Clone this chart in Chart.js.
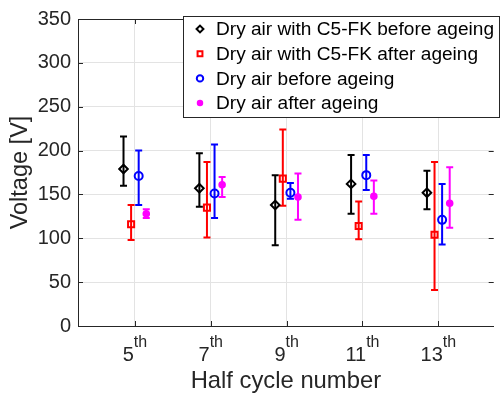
<!DOCTYPE html>
<html lang="en">
<head>
<meta charset="UTF-8">
<title>Voltage per half cycle</title>
<script src="https://cdn.jsdelivr.net/npm/chart.js@4.4.1/dist/chart.umd.min.js"></script>
<style>
  html, body { margin: 0; padding: 0; background: #fff; }
</style>
</head>
<body>
<canvas id="chart" width="500" height="396"></canvas>
<script>
// x axis: half cycle number, shown as 5th, 7th ...
const halfCycles = [5, 7, 9, 11, 13];
const tickLabels = ['5', '7', '9', '11', '13'];
const tickSuffix = 'th';

// voltage [V]: mean value plus lower / upper end of the error bar
const c5BeforeMean = [179, 157, 138, 162, 152];
const c5BeforeLow  = [160, 136, 92, 128, 133];
const c5BeforeHigh = [216, 197, 172, 195, 177];

const c5AfterMean = [116, 135, 168, 114, 104];
const c5AfterLow  = [98, 101, 137, 99, 41];
const c5AfterHigh = [138, 187, 224, 142, 187];

const airBeforeMean = [171, 151, 152, 172, 121];
const airBeforeLow  = [138, 123, 145, 155, 93];
const airBeforeHigh = [200, 207, 163, 195, 162];

const airAfterMean = [128, 161, 147, 148, 140];
const airAfterLow  = [123, 147, 121, 128, 112];
const airAfterHigh = [133, 170, 174, 166, 181];

const textColor = '#262626';
const gridColor = '#e3e3e3';
const fontFamily = '"Liberation Sans", Arial, sans-serif';

// build points, each series is shifted a bit sideways around the tick
function makePoints(mean, low, high, shift) {
  return halfCycles.map((h, i) => ({ x: h + shift, y: mean[i], low: low[i], high: high[i] }));
}

const series = [
  { label: 'Dry air with C5-FK before ageing', color: '#000000', style: 'rectRot', r: 4.3, fill: false,
    data: makePoints(c5BeforeMean, c5BeforeLow, c5BeforeHigh, -0.3) },
  { label: 'Dry air with C5-FK after ageing', color: '#ff0000', style: 'rect', r: 4.3, fill: false,
    data: makePoints(c5AfterMean, c5AfterLow, c5AfterHigh, -0.1) },
  { label: 'Dry air before ageing', color: '#0000ff', style: 'circle', r: 4, fill: false,
    data: makePoints(airBeforeMean, airBeforeLow, airBeforeHigh, 0.1) },
  { label: 'Dry air after ageing', color: '#ff00ff', style: 'circle', r: 2.8, fill: true,
    data: makePoints(airAfterMean, airAfterLow, airAfterHigh, 0.3) }
];

// vertical error bars with small caps, drawn under the markers
const errorBars = {
  id: 'errorBars',
  beforeDatasetsDraw(chart) {
    const ctx = chart.ctx;
    const xs = chart.scales.x, ys = chart.scales.y;
    chart.data.datasets.forEach(ds => {
      ctx.save();
      ctx.strokeStyle = ds.borderColor;
      ctx.lineWidth = 2;
      ds.data.forEach(p => {
        const px = xs.getPixelForValue(p.x);
        const top = ys.getPixelForValue(p.high);
        const bot = ys.getPixelForValue(p.low);
        ctx.beginPath();
        ctx.moveTo(px, top); ctx.lineTo(px, bot);
        ctx.moveTo(px - 3.5, top); ctx.lineTo(px + 3.5, top);
        ctx.moveTo(px - 3.5, bot); ctx.lineTo(px + 3.5, bot);
        ctx.stroke();
      });
      ctx.restore();
    });
  }
};

// matlab style box: top line, inward ticks, x labels with superscript
const frame = {
  id: 'frame',
  afterDraw(chart) {
    const ctx = chart.ctx;
    const a = chart.chartArea;
    const xs = chart.scales.x, ys = chart.scales.y;
    const t = 5;
    ctx.save();
    ctx.strokeStyle = textColor;
    ctx.lineWidth = 1;
    ctx.beginPath();
    ctx.moveTo(a.left, a.top + 0.5); ctx.lineTo(a.right, a.top + 0.5);
    halfCycles.forEach(h => {
      const px = Math.round(xs.getPixelForValue(h)) + 0.5;
      ctx.moveTo(px, a.bottom); ctx.lineTo(px, a.bottom - t);
      ctx.moveTo(px, a.top); ctx.lineTo(px, a.top + t);
    });
    ys.ticks.forEach(tk => {
      const py = Math.round(ys.getPixelForValue(tk.value)) + 0.5;
      ctx.moveTo(a.left, py); ctx.lineTo(a.left + t, py);
      ctx.moveTo(a.right, py); ctx.lineTo(a.right - t, py);
    });
    ctx.stroke();

    ctx.fillStyle = textColor;
    ctx.textBaseline = 'alphabetic';
    ctx.textAlign = 'left';
    const bigFont = '20px ' + fontFamily;
    const smallFont = '16px ' + fontFamily;
    halfCycles.forEach((h, i) => {
      ctx.font = bigFont;
      const wd = ctx.measureText(tickLabels[i]).width;
      ctx.font = smallFont;
      const ws = ctx.measureText(tickSuffix).width;
      const x0 = xs.getPixelForValue(h) - (wd + ws) / 2;
      ctx.font = bigFont;
      ctx.fillText(tickLabels[i], x0, 361);
      ctx.font = smallFont;
      ctx.fillText(tickSuffix, x0 + wd, 347);
    });
    ctx.restore();
  }
};

// legend box in the upper right corner of the axes
const boxLegend = {
  id: 'boxLegend',
  afterDraw(chart) {
    const ctx = chart.ctx;
    const bx = 183.5, by = 16.5, bw = 316, bh = 101;
    ctx.save();
    ctx.fillStyle = '#ffffff';
    ctx.fillRect(bx, by, bw, bh);
    ctx.strokeStyle = textColor;
    ctx.lineWidth = 1;
    ctx.strokeRect(bx, by, bw, bh);
    ctx.font = '19.1px ' + fontFamily;
    ctx.textBaseline = 'middle';
    ctx.textAlign = 'left';
    chart.data.datasets.forEach((ds, i) => {
      const yRow = 29 + i * 24.7;
      ctx.lineWidth = 2;
      ctx.strokeStyle = ds.borderColor;
      ctx.fillStyle = ds.backgroundColor;
      Chart.helpers.drawPoint(ctx, {
        pointStyle: ds.pointStyle,
        radius: ds.pointRadius * 0.8,
        rotation: 0,
        borderWidth: 2
      }, 200, yRow);
      ctx.fillStyle = '#000000';
      ctx.fillText(ds.label, 216, yRow + 1);
    });
    ctx.restore();
  }
};

const ctx = document.getElementById('chart').getContext('2d');
new Chart(ctx, {
  type: 'scatter',
  data: {
    datasets: series.map(s => ({
      label: s.label,
      data: s.data,
      pointStyle: s.style,
      pointRadius: s.r,
      pointHoverRadius: s.r,
      pointBorderWidth: 2,
      borderColor: s.color,
      backgroundColor: s.fill ? s.color : 'rgba(0,0,0,0)'
    }))
  },
  options: {
    responsive: false,
    animation: false,
    layout: { padding: { top: 16, right: 0, left: 0, bottom: 0 } },
    plugins: {
      legend: { display: false },
      tooltip: { enabled: false }
    },
    scales: {
      x: {
        type: 'linear',
        min: 3.5,
        max: 14.46,
        afterBuildTicks: scale => { scale.ticks = halfCycles.map(v => ({ value: v })); },
        afterFit: scale => { scale.height = 70; },
        ticks: { display: false },
        grid: { color: gridColor, drawTicks: false },
        border: { color: textColor, width: 1 },
        title: {
          display: true,
          text: 'Half cycle number',
          color: textColor,
          font: { family: fontFamily, size: 23.8 },
          padding: { top: 0, bottom: 0 }
        }
      },
      y: {
        min: 0,
        max: 350,
        afterFit: scale => { scale.width = 78; },
        ticks: {
          stepSize: 50,
          padding: 7,
          color: textColor,
          font: { family: fontFamily, size: 20 }
        },
        grid: { color: gridColor, drawTicks: false },
        border: { color: textColor, width: 1 },
        title: {
          display: true,
          text: 'Voltage [V]',
          color: textColor,
          font: { family: fontFamily, size: 23.5 },
          padding: { top: 6, bottom: 0 }
        }
      }
    }
  },
  plugins: [errorBars, frame, boxLegend]
});
</script>
</body>
</html>
